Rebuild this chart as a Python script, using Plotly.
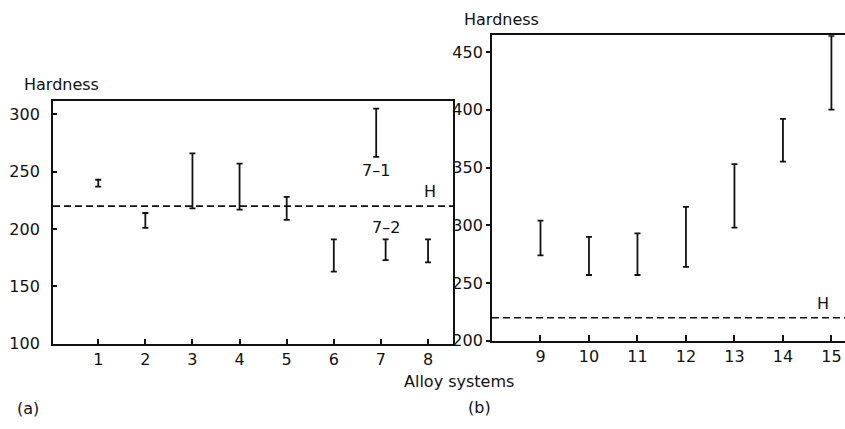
import plotly.graph_objects as go

# ---- data ----
a_x = [1, 2, 3, 4, 5, 6, 6.9, 7.1, 8]
a_lo = [237, 201, 218, 217, 208, 163, 263, 173, 171]
a_hi = [243, 214, 266, 257, 228, 191, 305, 191, 191]

b_x = [9, 10, 11, 12, 13, 14, 15]
b_lo = [274, 257, 257, 264, 298, 355, 400]
b_hi = [304, 290, 293, 316, 353, 392, 464]

h_level = 220
a_xticks = [1, 2, 3, 4, 5, 6, 7, 8]
a_yticks = [100, 150, 200, 250, 300]
b_xticks = [9, 10, 11, 12, 13, 14, 15]
b_yticks = [200, 250, 300, 350, 400, 450]

W, H = 845, 429
FONT = "DejaVu Sans, Liberation Sans, Arial, sans-serif"
FS = 16
INK = "#111111"


def mid(lo, hi):
    return [(l + h) / 2 for l, h in zip(lo, hi)]


def half(lo, hi):
    return [(h - l) / 2 for l, h in zip(lo, hi)]


fig = go.Figure()

fig.add_trace(go.Scatter(
    x=a_x, y=mid(a_lo, a_hi), mode="markers",
    marker=dict(size=0.1, color=INK, opacity=0),
    error_y=dict(type="data", array=half(a_lo, a_hi), symmetric=True,
                 color=INK, thickness=1.8, width=3),
    xaxis="x", yaxis="y", showlegend=False, hoverinfo="skip"))

fig.add_trace(go.Scatter(
    x=b_x, y=mid(b_lo, b_hi), mode="markers",
    marker=dict(size=0.1, color=INK, opacity=0),
    error_y=dict(type="data", array=half(b_lo, b_hi), symmetric=True,
                 color=INK, thickness=1.8, width=3),
    xaxis="x2", yaxis="y2", showlegend=False, hoverinfo="skip"))

axis_common = dict(showgrid=False, zeroline=False, showline=True,
                   linecolor=INK, linewidth=1.8, tickcolor=INK,
                   tickwidth=1.5,
                   tickfont=dict(family=FONT, size=FS, color=INK))

fig.update_layout(
    width=W, height=H,
    margin=dict(l=0, r=0, t=0, b=0),
    paper_bgcolor="white", plot_bgcolor="white",
    font=dict(family=FONT, size=FS, color=INK),
    xaxis=dict(domain=[53 / W, 453 / W], anchor="y", range=[0.04, 8.53],
               tickmode="array", tickvals=a_xticks, ticks="inside",
               ticklen=5, mirror=True, ticklabelstandoff=0, **axis_common),
    yaxis=dict(domain=[1 - 352 / H, 1 - 103 / H], anchor="x", range=[100, 312],
               tickmode="array", tickvals=a_yticks, ticks="inside",
               ticklen=4, mirror=True, ticklabelstandoff=8, **axis_common),
    xaxis2=dict(domain=[492 / W, 1.0], anchor="y2", range=[8.0, 15.28],
                tickmode="array", tickvals=b_xticks, ticks="inside",
                ticklen=6, mirror=True, ticklabelstandoff=0, **axis_common),
    yaxis2=dict(domain=[1 - 349 / H, 1 - 36 / H], anchor="x2", range=[200, 464.5],
                tickmode="array", tickvals=b_yticks, ticks="outside",
                ticklen=4, mirror=False, ticklabelstandoff=0, **axis_common),
)

# H reference lines
fig.add_shape(type="line", xref="x domain", yref="y", x0=0, x1=1,
              y0=h_level, y1=h_level, line=dict(color=INK, width=1.6, dash="7px,4px"))
fig.add_shape(type="line", xref="x2 domain", yref="y2", x0=0, x1=1,
              y0=h_level, y1=h_level, line=dict(color=INK, width=1.6, dash="7px,4px"))

ann = []
ann.append(dict(text="7\u20131", x=6.9, y=251, xref="x", yref="y", showarrow=False))
ann.append(dict(text="7\u20132", x=7.1, y=201, xref="x", yref="y", showarrow=False))
ann.append(dict(text="H", x=8.04, y=233, xref="x", yref="y", showarrow=False))
ann.append(dict(text="H", x=14.83, y=232, xref="x2", yref="y2", showarrow=False))
ann.append(dict(text="Hardness", x=62 / W, y=1 - 87 / H, xref="paper", yref="paper",
                showarrow=False))
ann.append(dict(text="Hardness", x=502 / W, y=1 - 20 / H, xref="paper", yref="paper",
                showarrow=False))
ann.append(dict(text="Alloy systems", x=459 / W, y=1 - 391 / H, xref="paper",
                yref="paper", showarrow=False))
ann.append(dict(text="(a)", x=28 / W, y=1 - 418 / H, xref="paper", yref="paper",
                showarrow=False))
ann.append(dict(text="(b)", x=479 / W, y=1 - 417 / H, xref="paper", yref="paper",
                showarrow=False))
for a in ann:
    a["font"] = dict(family=FONT, size=FS, color=INK)
    a["xanchor"] = "center"
    a["yanchor"] = "middle"
fig.update_layout(annotations=ann)

fig.write_html("out.html")
